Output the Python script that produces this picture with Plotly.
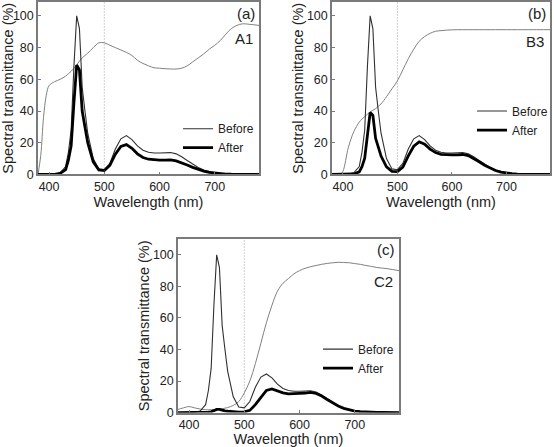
import plotly.graph_objects as go

# ---------------- data ----------------
wavelength = [380, 385, 390, 395, 400, 410, 420, 430, 435, 440, 445, 450, 455, 460, 465, 470,
              480, 490, 500, 510, 520, 530, 540, 550, 560, 570, 580, 590, 600, 610, 620, 630,
              640, 650, 660, 670, 680, 690, 700, 710, 720, 730, 740, 750, 760, 780]

# LED spectrum (Before) - same lamp in all panels
led_before = [0, 0, 0, 0, 0, 0.2, 1, 5, 14, 28, 68, 100, 92, 55, 40, 26,
              10, 3.5, 3, 7, 16, 22.5, 24.5, 22, 18, 15.3, 14, 13.5, 13.5, 13.6, 13.8, 13,
              11.2, 8.8, 6.4, 4.4, 2.8, 1.7, 1, 0.6, 0.3, 0.2, 0.1, 0.05, 0, 0]

# filter transmittances
filter_a1 = [0, 12, 36, 50, 56, 58.5, 60, 62, 63.5, 65, 67, 69, 71.5, 73.5, 75, 76.5,
             80, 83, 83, 81.5, 80, 78.5, 77, 75, 72, 70, 68.5, 67.3, 67, 66.7, 66.5, 66.5,
             67, 68.5, 71, 73.5, 76, 79, 81.5, 84.5, 88.5, 92, 94, 95, 94.8, 94]
filter_b3 = [0, 0, 0, 0, 2, 17, 27, 33, 35, 36.5, 38, 39.5, 40.5, 41.5, 43, 44.5,
             49, 54, 59, 66, 73, 79, 84, 87, 89, 90.3, 90.7, 91, 91.2, 91.3, 91.3, 91.3,
             91.3, 91.3, 91.3, 91.3, 91.3, 91.3, 91.3, 91.3, 91.3, 91.3, 91.3, 91.3, 91.3, 91.3]
filter_c2 = [2, 2.5, 3, 3.5, 3.8, 3, 2.2, 1.8, 1.8, 1.8, 1.9, 2, 2.2, 2.4, 2.8, 3.2,
             4.5, 7, 12.5, 20, 31, 44, 57, 68, 77, 82, 85, 88, 90, 91.5, 92.5, 93.3,
             94, 94.6, 95, 95.3, 95.2, 95, 94.5, 94, 93.3, 92.7, 92, 91.6, 91.2, 90]

# transmitted spectra (After)
after_a1 = [0, 0, 0, 0, 0, 0.1, 0.6, 3.1, 9, 18, 45, 69, 66, 40, 30, 20,
            8, 2.9, 2.5, 5.7, 12.8, 17.7, 18.8, 16.5, 13, 10.7, 9.6, 9.1, 9.05, 9.1, 9.2, 8.6,
            7.5, 6, 4.5, 3.2, 2.1, 1.3, 0.8, 0.5, 0.27, 0.15, 0.1, 0.05, 0, 0]
after_b3 = [0, 0, 0, 0, 0, 0, 0.3, 1.6, 4.9, 10.2, 25.8, 39, 37.3, 22.8, 17.2, 11.6,
            4.8, 1.9, 1.8, 4.6, 11.7, 17.8, 20.6, 19.1, 16, 13.8, 12.7, 12.3, 12.35, 12.4, 12.6, 11.9,
            10.2, 8, 5.8, 4, 2.5, 1.5, 0.9, 0.55, 0.27, 0.15, 0.09, 0.05, 0, 0]
after_c2 = [0, 0, 0, 0, 0, 0, 0, 0.09, 0.25, 0.5, 1.3, 2, 2, 1.3, 1.1, 0.83,
            0.45, 0.25, 0.4, 1.4, 5, 9.9, 14, 15, 13.9, 12.5, 11.9, 11.9, 12.2, 12.4, 12.8, 12.1,
            10.5, 8.3, 6.1, 4.2, 2.7, 1.6, 0.95, 0.56, 0.28, 0.17, 0.09, 0.05, 0, 0]

panel_labels = ["(a)", "(b)", "(c)"]
sample_names = ["A1", "B3", "C2"]
filters = [filter_a1, filter_b3, filter_c2]
afters = [after_a1, after_b3, after_c2]
cutoff_nm = 500
x_ticks = [400, 500, 600, 700]
y_ticks = [0, 20, 40, 60, 80, 100]

# ---------------- layout geometry ----------------
W, H = 554, 447
# (left, right, top, bottom) in pixels for each panel
boxes = [(38, 259, -2, 176), (332, 550, -2, 176), (178, 399, 242, 419)]
legend_pos = [(259, 139), (553, 121), (399, 364)]
label_pos = [(12, 37), (12, 40), (253, 285)]

FONT = "Liberation Sans, Arial, sans-serif"
fig = go.Figure()

for i in range(3):
    xa = "x" if i == 0 else f"x{i+1}"
    ya = "y" if i == 0 else f"y{i+1}"
    lg = "legend" if i == 0 else f"legend{i+1}"
    fig.add_trace(go.Scatter(x=wavelength, y=filters[i], mode="lines", xaxis=xa, yaxis=ya,
                             line=dict(color="#808080", width=1), showlegend=False,
                             line_shape="spline"))
    fig.add_trace(go.Scatter(x=wavelength, y=led_before, mode="lines", xaxis=xa, yaxis=ya,
                             name="Before", legend=lg, line=dict(color="#303030", width=1.1)))
    fig.add_trace(go.Scatter(x=wavelength, y=afters[i], mode="lines", xaxis=xa, yaxis=ya,
                             name="After", legend=lg, line=dict(color="#000000", width=2.8)))

layout = dict(width=W, height=H, margin=dict(l=0, r=0, t=0, b=0),
              paper_bgcolor="white", plot_bgcolor="white",
              font=dict(family=FONT, size=13, color="#222"))

for i, (l, r, t, b) in enumerate(boxes):
    sfx = "" if i == 0 else str(i + 1)
    top_val = 110
    y_dom_top = 1 - t / H
    if y_dom_top > 1:
        # panel top is cut off by the image edge
        top_val = b / ((b - t) / 110)
        y_dom_top = 1.0
    axis_common = dict(showgrid=False, zeroline=False, showline=True, mirror=True,
                       linecolor="#7a7a7a", linewidth=1.5, ticks="inside", ticklen=3,
                       tickcolor="#7a7a7a", tickfont=dict(size=12.5, color="#222"))
    layout["xaxis" + sfx] = dict(axis_common, domain=[l / W, r / W], range=[380, 780],
                                 tickvals=x_ticks, anchor="y" + sfx,
                                 title=dict(text="Wavelength (nm)", font=dict(size=14.5),
                                            standoff=4))
    layout["yaxis" + sfx] = dict(axis_common, domain=[1 - b / H, y_dom_top],
                                 range=[0, top_val], tickvals=y_ticks, anchor="x" + sfx,
                                 title=dict(text="Spectral transmittance (%)",
                                            font=dict(size=14.5), standoff=0))
    lx, ly = legend_pos[i]
    layout["legend" if i == 0 else f"legend{i+1}"] = dict(
        x=lx / W, y=1 - ly / H, xanchor="right", yanchor="middle",
        bgcolor="rgba(0,0,0,0)", borderwidth=0, font=dict(size=12, color="#222"),
        tracegroupgap=0, itemwidth=30)

fig.update_layout(**layout)

annotations = []
shapes = []
for i, (l, r, t, b) in enumerate(boxes):
    sfx = "" if i == 0 else str(i + 1)
    top_px = t if t > 0 else 0
    ty, ny = label_pos[i]
    annotations.append(dict(text=panel_labels[i], xref=f"x{sfx} domain", yref=f"y{sfx} domain",
                            x=1, xshift=-2, y=(b - ty) / (b - top_px), xanchor="right",
                            yanchor="middle", showarrow=False, font=dict(size=15, color="#222")))
    annotations.append(dict(text=sample_names[i], xref=f"x{sfx} domain", yref=f"y{sfx} domain",
                            x=1, xshift=-4, y=(b - ny) / (b - top_px), xanchor="right",
                            yanchor="middle", showarrow=False, font=dict(size=15, color="#222")))
    shapes.append(dict(type="line", xref="x" + sfx, yref=f"y{sfx} domain",
                       x0=cutoff_nm, x1=cutoff_nm, y0=0, y1=1,
                       line=dict(color="#888", width=0.8, dash="1px,2px")))

fig.update_layout(annotations=annotations, shapes=shapes)
fig.write_html("out.html")
